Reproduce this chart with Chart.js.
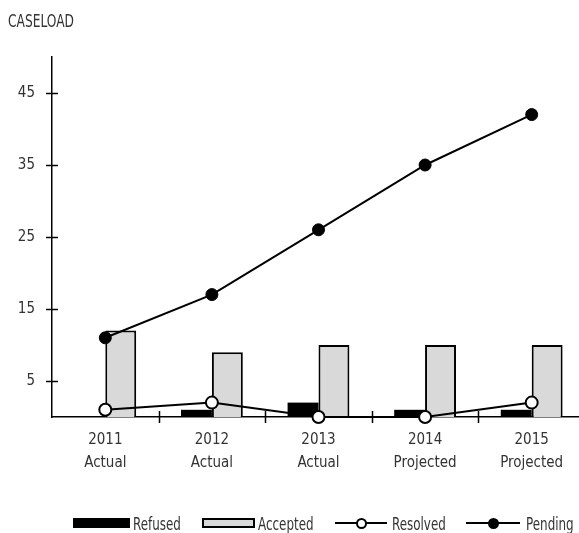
<!DOCTYPE html>
<html>
<head>
<meta charset="utf-8">
<script src="https://cdn.jsdelivr.net/npm/chart.js@4"></script>
<style>
  html, body { margin: 0; padding: 0; background: #fff; overflow: hidden; }
  body { width: 579px; height: 533px; position: relative; font-family: 'Liberation Sans Narrow', 'DejaVu Sans Condensed', 'Roboto Condensed', sans-serif; color: #333; }
  #wrap { position: absolute; left: 0; top: 0; width: 600px; height: 533px; }
  #title { position: absolute; left: 8px; top: 11px; font-size: 17px; transform: scaleX(0.8); transform-origin: left center; white-space: nowrap; }
  .lg { position: absolute; font-size: 17px; top: 514px; line-height: 20px; transform: scaleX(0.78); transform-origin: left center; white-space: nowrap; }
  .sw { position: absolute; box-sizing: border-box; }
  .ln { position: absolute; height: 2px; background: #000; top: 522px; }
  .dot { position: absolute; box-sizing: border-box; border-radius: 50%; border: 2px solid #000; }
</style>
</head>
<body>
<div id="wrap"><canvas id="c" width="600" height="533"></canvas></div>
<div id="title">CASELOAD</div>
<div class="sw" style="left:73px; top:518px; width:57px; height:10px; background:#000;"></div>
<div class="lg" style="left:133px;">Refused</div>
<div class="sw" style="left:202px; top:518px; width:53px; height:10px; background:#d9d9d9; border:2px solid #000;"></div>
<div class="lg" style="left:258px;">Accepted</div>
<div class="ln" style="left:335px; width:52px;"></div>
<div class="dot" style="left:356px; top:518px; width:11px; height:11px; background:#fff;"></div>
<div class="lg" style="left:392px;">Resolved</div>
<div class="ln" style="left:466px; width:54px;"></div>
<div class="dot" style="left:488px; top:518px; width:11px; height:11px; background:#000;"></div>
<div class="lg" style="left:526px;">Pending</div>
<script>
const years = ['2011', '2012', '2013', '2014', '2015'];
const phases = ['Actual', 'Actual', 'Actual', 'Projected', 'Projected'];
const refused = [0, 1, 2, 1, 1];
const accepted = [12, 9, 10, 10, 10];
const resolved = [1, 2, 0, 0, 2];
const pending = [11, 17, 26, 35, 42];
const yTicks = [5, 15, 25, 35, 45];

const labels = years.map((y, i) => [y, phases[i]]);
const FONT = "'Liberation Sans Narrow', 'DejaVu Sans Condensed', 'Roboto Condensed', sans-serif";
Chart.defaults.font.family = FONT;
Chart.defaults.color = '#333';

const crossTicks = {
  id: 'crossTicks',
  afterDraw(chart) {
    const ctx = chart.ctx;
    const x = chart.scales.x, y = chart.scales.y;
    const ca = chart.chartArea;
    ctx.save();
    ctx.strokeStyle = '#000';
    ctx.lineWidth = 1.5;
    ctx.beginPath();
    yTicks.forEach(v => {
      const py = Math.round(y.getPixelForValue(v)) + 0.5;
      ctx.moveTo(ca.left - 6, py);
      ctx.lineTo(ca.left + 6, py);
    });
    for (let i = 1; i < years.length; i++) {
      const px = Math.round((x.getPixelForValue(i - 1) + x.getPixelForValue(i)) / 2) + 0.5;
      ctx.moveTo(px, ca.bottom - 6);
      ctx.lineTo(px, ca.bottom + 6);
    }
    ctx.stroke();
    ctx.restore();
  }
};

new Chart(document.getElementById('c'), {
  type: 'bar',
  data: {
    labels: labels,
    datasets: [
      { type: 'line', label: 'Pending', data: pending, order: 0, borderColor: '#000', borderWidth: 2,
        pointRadius: 6, pointBackgroundColor: '#000', pointBorderColor: '#000', pointBorderWidth: 1, clip: false, tension: 0 },
      { type: 'line', label: 'Resolved', data: resolved, order: 0, borderColor: '#000', borderWidth: 2,
        pointRadius: 6, pointBackgroundColor: '#fff', pointBorderColor: '#000', pointBorderWidth: 2, clip: false, tension: 0 },
      { label: 'Refused', data: refused, order: 1, backgroundColor: '#000', borderColor: '#000', borderWidth: 0,
        categoryPercentage: 0.58, barPercentage: 1.0 },
      { label: 'Accepted', data: accepted, order: 2, backgroundColor: '#d9d9d9', borderColor: '#000', borderWidth: 2,
        categoryPercentage: 0.58, barPercentage: 1.0 }
    ]
  },
  options: {
    responsive: false,
    animation: false,
    layout: { padding: { left: 0, right: 15, top: 57, bottom: 0 } },
    plugins: { legend: { display: false }, tooltip: { enabled: false } },
    scales: {
      x: {
        offset: true,
        grid: { display: false, drawTicks: false },
        border: { display: true, color: '#000', width: 1.5 },
        ticks: { font: { size: 15, lineHeight: 1.55 }, padding: 11, color: '#333', maxRotation: 0 },
        afterFit(s) { s.height = 116; }
      },
      y: {
        min: 0, max: 50,
        grid: { display: false, drawTicks: false },
        border: { display: true, color: '#000', width: 1.5 },
        afterBuildTicks(s) { s.ticks = yTicks.map(v => ({ value: v })); },
        ticks: { font: { size: 15 }, padding: 17, color: '#333' },
        afterFit(s) { s.width = 52; }
      }
    }
  },
  plugins: [crossTicks]
});
</script>
</body>
</html>
